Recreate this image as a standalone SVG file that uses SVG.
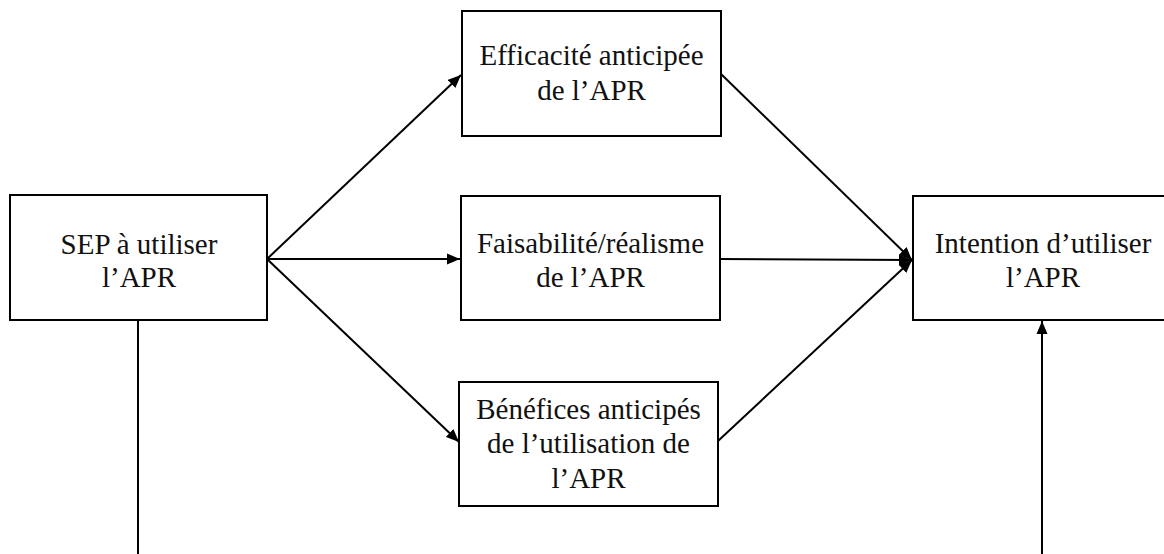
<svg xmlns="http://www.w3.org/2000/svg" width="1164" height="554" viewBox="0 0 1164 554">
<style>
.box{fill:#fff;stroke:#000;stroke-width:2}
.t{font-family:"Liberation Serif","Times New Roman",serif;font-size:29px;fill:#111;text-anchor:middle}
.c{stroke:#000;stroke-width:2;fill:none}
.a{marker-end:url(#ah)}
</style>
<defs>
<marker id="ah" markerUnits="userSpaceOnUse" markerWidth="14" markerHeight="12" viewBox="0 0 14 12" refX="13" refY="6" orient="auto">
<path d="M0,0.5 L13,6 L0,11.5 Z" fill="#000"/>
</marker>
</defs>
<rect width="1164" height="554" fill="#fff"/>
<g id="connectors">
<line class="c a" x1="267" y1="259" x2="461" y2="75"/>
<line class="c a" x1="267" y1="259" x2="460" y2="259"/>
<line class="c a" x1="267" y1="259" x2="459" y2="442"/>
<line class="c a" x1="721" y1="74" x2="912" y2="260"/>
<line class="c a" x1="720" y1="259" x2="912" y2="260"/>
<line class="c a" x1="718" y1="441" x2="912" y2="260"/>
<line class="c" x1="138" y1="320" x2="138" y2="556"/>
<line class="c a" x1="1042" y1="556" x2="1042" y2="321"/>
</g>
<g id="sep">
<rect class="box" x="10" y="195" width="257" height="125"/>
<text class="t" x="139" y="254">SEP à utiliser</text>
<text class="t" x="139" y="287">l’APR</text>
</g>
<g id="efficacite">
<rect class="box" x="462" y="11" width="259" height="125"/>
<text class="t" x="591.5" y="65">Efficacité anticipée</text>
<text class="t" x="591.5" y="100">de l’APR</text>
</g>
<g id="faisabilite">
<rect class="box" x="461" y="196" width="259" height="124"/>
<text class="t" x="590.5" y="253">Faisabilité/réalisme</text>
<text class="t" x="590.5" y="287">de l’APR</text>
</g>
<g id="benefices">
<rect class="box" x="459" y="382" width="259" height="124"/>
<text class="t" x="588.5" y="419">Bénéfices anticipés</text>
<text class="t" x="588.5" y="453">de l’utilisation de</text>
<text class="t" x="588.5" y="488">l’APR</text>
</g>
<g id="intention">
<rect class="box" x="913" y="196" width="260" height="124"/>
<text class="t" x="1043" y="253">Intention d’utiliser</text>
<text class="t" x="1043" y="287">l’APR</text>
</g>
</svg>
